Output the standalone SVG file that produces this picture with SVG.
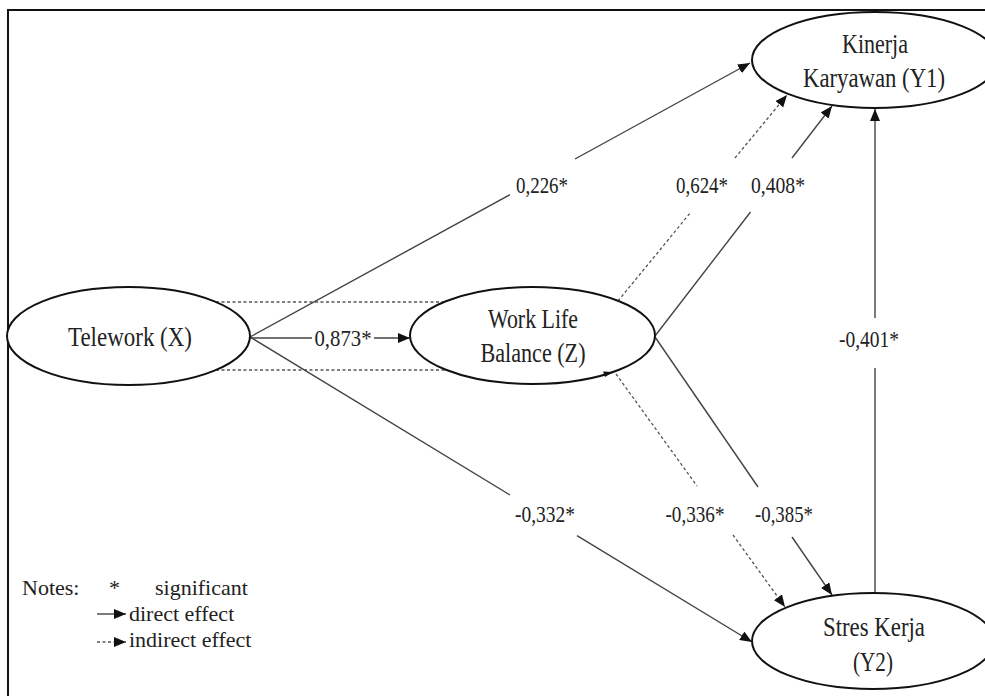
<svg xmlns="http://www.w3.org/2000/svg" width="985" height="696" viewBox="0 0 985 696">
<defs>
<marker id="ah" markerUnits="userSpaceOnUse" markerWidth="13" markerHeight="10" refX="12" refY="5" orient="auto">
<path d="M0,0 L12,5 L0,10 z" fill="#111"/>
</marker>
<style>
.node{fill:#fff;stroke:#111;stroke-width:2}
.t{font-family:"Liberation Serif","Times New Roman",serif;fill:#222;text-anchor:middle}
.nl{font-size:27px}
.el{font-size:23px}
.lg{font-family:"Liberation Serif","Times New Roman",serif;fill:#222;font-size:22px}
.d{fill:none;stroke:#444;stroke-width:1.4}
.i{fill:none;stroke:#555;stroke-width:1.3;stroke-dasharray:3 2.5}
</style>
</defs>
<rect width="985" height="696" fill="#fff"/>
<path d="M8,700 V10 H990" fill="none" stroke="#111" stroke-width="2"/>

<g id="connectors">
<line class="i" x1="216" y1="302" x2="445" y2="302"/>
<line class="i" x1="216" y1="370" x2="446" y2="370"/>
<line class="d" x1="250" y1="337" x2="510" y2="194.6"/>
<line class="d" x1="575" y1="159" x2="750" y2="63" marker-end="url(#ah)"/>
<line class="i" x1="618" y1="301" x2="691" y2="212"/>
<line class="i" x1="735" y1="158" x2="787" y2="95" marker-end="url(#ah)"/>
<line class="d" x1="655" y1="336" x2="750.5" y2="212"/>
<line class="d" x1="792" y1="158" x2="832" y2="106" marker-end="url(#ah)"/>
<line class="d" x1="875" y1="593" x2="875" y2="368"/>
<line class="d" x1="875" y1="318" x2="875" y2="109" marker-end="url(#ah)"/>
<line class="d" x1="250" y1="338" x2="312" y2="338"/>
<line class="d" x1="374" y1="338" x2="410" y2="338" marker-end="url(#ah)"/>
<line class="d" x1="250" y1="337" x2="510" y2="495"/>
<line class="d" x1="577" y1="535.7" x2="752" y2="642" marker-end="url(#ah)"/>
<line class="i" x1="616" y1="374" x2="697" y2="486"/>
<line class="i" x1="733" y1="535" x2="785" y2="607" marker-end="url(#ah)"/>
<line class="d" x1="655" y1="337" x2="758" y2="487"/>
<line class="d" x1="792" y1="537" x2="832" y2="595" marker-end="url(#ah)"/>
</g>

<g id="node-telework">
<ellipse class="node" cx="128.5" cy="336" rx="121.5" ry="49"/>
<text class="t nl" x="130" y="346" textLength="124" lengthAdjust="spacingAndGlyphs">Telework (X)</text>
</g>
<g id="node-wlb">
<ellipse class="node" cx="532.5" cy="335.5" rx="122.5" ry="48.5"/>
<text class="t nl" x="533" y="328" textLength="90" lengthAdjust="spacingAndGlyphs">Work Life</text>
<text class="t nl" x="533" y="362" textLength="105" lengthAdjust="spacingAndGlyphs">Balance (Z)</text>
</g>
<g id="node-kinerja">
<ellipse class="node" cx="875" cy="60" rx="123" ry="48"/>
<text class="t nl" x="875" y="53" textLength="66" lengthAdjust="spacingAndGlyphs">Kinerja</text>
<text class="t nl" x="874" y="87" textLength="142" lengthAdjust="spacingAndGlyphs">Karyawan (Y1)</text>
</g>
<g id="node-stres">
<ellipse class="node" cx="873" cy="641" rx="121" ry="48"/>
<text class="t nl" x="874" y="636" textLength="102" lengthAdjust="spacingAndGlyphs">Stres Kerja</text>
<text class="t nl" x="873" y="671" textLength="40" lengthAdjust="spacingAndGlyphs">(Y2)</text>
</g>
<path d="M603,371.5 L613,372 L605,377 z" fill="#111"/>

<g id="edge-labels">
<text class="t el" x="542" y="193" textLength="52" lengthAdjust="spacingAndGlyphs">0,226*</text>
<text class="t el" x="702" y="193" textLength="52" lengthAdjust="spacingAndGlyphs">0,624*</text>
<text class="t el" x="778" y="193" textLength="54" lengthAdjust="spacingAndGlyphs">0,408*</text>
<text class="t el" x="343" y="346" textLength="57" lengthAdjust="spacingAndGlyphs">0,873*</text>
<text class="t el" x="869" y="347" textLength="60" lengthAdjust="spacingAndGlyphs">-0,401*</text>
<text class="t el" x="545" y="522" textLength="60" lengthAdjust="spacingAndGlyphs">-0,332*</text>
<text class="t el" x="695" y="522" textLength="59" lengthAdjust="spacingAndGlyphs">-0,336*</text>
<text class="t el" x="784" y="522" textLength="58" lengthAdjust="spacingAndGlyphs">-0,385*</text>
</g>

<g id="legend">
<text class="lg" x="22" y="595">Notes:</text>
<text class="lg" x="109" y="595">*</text>
<text class="lg" x="155" y="595">significant</text>
<line class="d" x1="97" y1="614" x2="126" y2="614" marker-end="url(#ah)"/>
<text class="lg" x="129" y="621">direct effect</text>
<line class="i" x1="97" y1="642" x2="126" y2="642" marker-end="url(#ah)"/>
<text class="lg" x="129" y="647">indirect effect</text>
</g>
</svg>
